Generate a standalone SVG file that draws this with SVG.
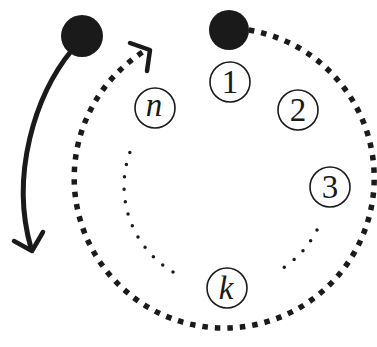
<svg xmlns="http://www.w3.org/2000/svg" width="377" height="347" viewBox="0 0 377 347">
<style>
.lbl circle{fill:none;stroke:#1a1a1a;stroke-width:1.6}
.lbl text{font-family:"Liberation Serif","Times New Roman",serif;font-size:33px;fill:#1a1a1a;text-anchor:middle}
.it{font-style:italic}
.big{fill:none;stroke:#1a1a1a;stroke-width:5.5;stroke-dasharray:5.5 7}
.small{fill:none;stroke:#1a1a1a;stroke-width:3.5;stroke-linecap:round;stroke-dasharray:0 12.5}
.head{fill:none;stroke:#1a1a1a;stroke-width:4.5;stroke-linecap:round;stroke-linejoin:round}
</style>
<rect width="377" height="347" fill="#ffffff"/>
<g id="connectors">
<path class="big" d="M 224 28 A 150 150 0 1 1 146 50"/>
<polyline class="head" points="130,43 150,50 147,71"/>
<path d="M 72 50 C 35 95 10 175 31 248" fill="none" stroke="#1a1a1a" stroke-width="5"/>
<polyline class="head" points="14,241 32,251 43,232"/>
<path class="small" d="M 173 272 A 100 100 0 0 1 130 152"/>
<path class="small" d="M 317 230 A 100 100 0 0 1 283 268"/>
</g>
<g id="dot-left"><circle cx="82" cy="36" r="21" fill="#1a1a1a"/></g>
<g id="dot-top"><circle cx="229" cy="30" r="20" fill="#1a1a1a"/></g>
<g id="n1" class="lbl"><circle cx="230" cy="82" r="20"/><text x="230" y="93">1</text></g>
<g id="n2" class="lbl"><circle cx="298" cy="110" r="20"/><text x="298" y="121">2</text></g>
<g id="n3" class="lbl"><circle cx="330" cy="187" r="20"/><text x="330" y="198">3</text></g>
<g id="nn" class="lbl"><circle cx="155" cy="108" r="20"/><text class="it" x="154" y="116">n</text></g>
<g id="nk" class="lbl"><circle cx="227" cy="288" r="20"/><text class="it" x="226" y="299">k</text></g>
</svg>
